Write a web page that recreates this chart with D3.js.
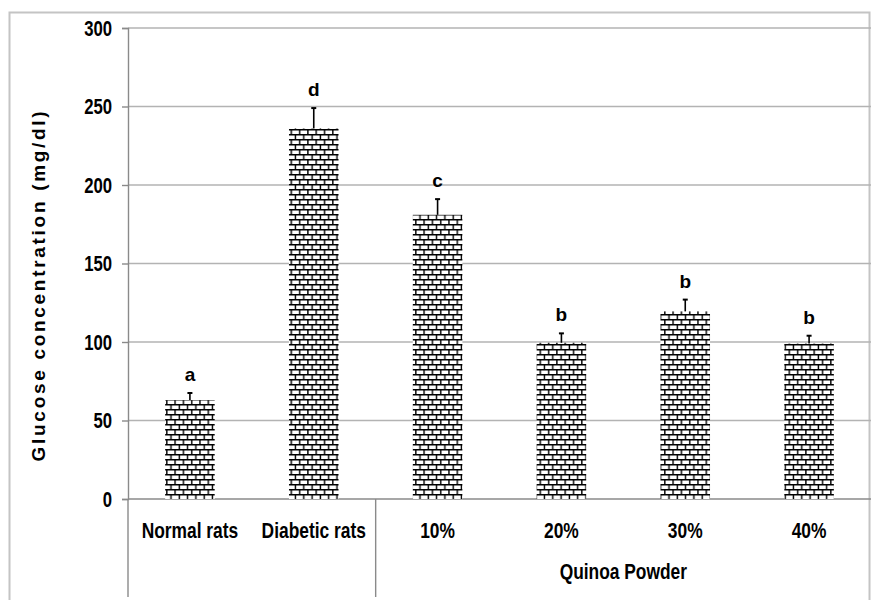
<!DOCTYPE html>
<html>
<head>
<meta charset="utf-8">
<script src="https://cdn.jsdelivr.net/npm/d3@7"></script>
<style>
  body { margin: 0; background: #fff; }
  svg { display: block; }
  .narrow { font-family: "Liberation Sans", Arial, sans-serif; font-weight: bold; }
</style>
</head>
<body>
<div id="chart"></div>
<script>
// data
var groups = ["Normal rats", "Diabetic rats", "10%", "20%", "30%", "40%"]
var glucose = [63, 236, 181, 99.5, 119.5, 99]
var errors = [4.5, 13, 10, 6, 7.5, 5]
var letters = ["a", "d", "c", "b", "b", "b"]
var yTicks = [0, 50, 100, 150, 200, 250, 300]
var groupTitle = "Quinoa Powder"

var width = 871, height = 600
var margin = {top: 28, right: 0, bottom: 101, left: 128}
var squeeze = 0.79   // fake a narrow font
var squeezeY = 0.76

var svg = d3.select("#chart").append("svg")
    .attr("width", width)
    .attr("height", height)

// brick hatch
var defs = svg.append("defs")
var pat = defs.append("pattern")
    .attr("id", "bricks")
    .attr("patternUnits", "userSpaceOnUse")
    .attr("width", 8.3)
    .attr("height", 10)
    .attr("y", 499)
    .attr("x", 0)
pat.append("rect").attr("width", 8.3).attr("height", 10).attr("fill", "#fff")
pat.append("path")
    .attr("d", "M0,0.7H8.3M0,5.7H8.3M0.8,0.7V5.7M5,5.7V10.7")
    .attr("stroke", "#000")
    .attr("stroke-width", 1.4)
    .attr("fill", "none")

// outer frame
svg.append("rect")
    .attr("x", 9.5).attr("y", 12.5)
    .attr("width", 860).attr("height", 600)
    .attr("fill", "none")
    .attr("stroke", "#c4c4c4")
    .attr("stroke-width", 2)

var x = d3.scaleBand()
    .domain(groups)
    .range([margin.left, width - margin.right])
    .paddingInner(0.6)
    .paddingOuter(0.3)

var y = d3.scaleLinear()
    .domain([0, 300])
    .range([height - margin.bottom, margin.top])

// gridlines
svg.append("g")
    .selectAll("line")
    .data(yTicks.slice(1))
    .enter().append("line")
    .attr("x1", margin.left).attr("x2", width)
    .attr("y1", function(d){ return y(d) }).attr("y2", function(d){ return y(d) })
    .attr("stroke", "#b3b3b3")
    .attr("stroke-width", 1.6)

// y axis
var yAxis = svg.append("g")
    .attr("transform", "translate(" + margin.left + ",0)")
    .call(d3.axisLeft(y).tickValues(yTicks).tickSize(6).tickPadding(10))
yAxis.select(".domain").attr("stroke", "#8a8a8a").attr("stroke-width", 1.4)
yAxis.selectAll(".tick line").attr("stroke", "#8a8a8a").attr("stroke-width", 1.4)
yAxis.selectAll(".tick text")
    .attr("class", "narrow")
    .attr("font-size", 22)
    .attr("fill", "#000")
    .attr("x", -16 / squeezeY)
    .attr("transform", "scale(" + squeezeY + ",1)")

// x axis line
svg.append("line")
    .attr("x1", margin.left).attr("x2", width)
    .attr("y1", y(0)).attr("y2", y(0))
    .attr("stroke", "#8a8a8a").attr("stroke-width", 1.4)

// left axis line down to bottom, and group separator
var sepX = (x("Diabetic rats") + x.bandwidth() + x("10%")) / 2
svg.append("line")
    .attr("x1", margin.left).attr("x2", margin.left)
    .attr("y1", y(0)).attr("y2", 597)
    .attr("stroke", "#8a8a8a").attr("stroke-width", 1.4)
svg.append("line")
    .attr("x1", sepX).attr("x2", sepX)
    .attr("y1", y(0)).attr("y2", 597)
    .attr("stroke", "#8a8a8a").attr("stroke-width", 1.4)

// x category labels
var xAxis = svg.append("g")
    .attr("transform", "translate(0," + y(0) + ")")
    .call(d3.axisBottom(x).tickSize(0).tickPadding(23))
xAxis.select(".domain").remove()
xAxis.selectAll(".tick text")
    .attr("class", "narrow")
    .attr("font-size", 22)
    .attr("fill", "#000")
    .attr("transform", "scale(" + squeeze + ",1)")

svg.append("text")
    .attr("class", "narrow")
    .attr("transform", "translate(" + ((sepX + width) / 2) + ",579) scale(" + squeeze + ",1)")
    .attr("text-anchor", "middle")
    .attr("font-size", 22)
    .text(groupTitle)

// y title
svg.append("text")
    .attr("transform", "translate(45," + 285 + ") rotate(-90)")
    .attr("text-anchor", "middle")
    .attr("font-family", "Liberation Sans, Arial, sans-serif")
    .attr("font-weight", "bold")
    .attr("font-size", 19)
    .attr("letter-spacing", 2.7)
    .text("Glucose concentration (mg/dl)")

// bars
svg.append("g")
    .selectAll("rect")
    .data(groups)
    .enter().append("rect")
    .attr("x", function(d){ return x(d) })
    .attr("y", function(d, i){ return y(glucose[i]) })
    .attr("width", x.bandwidth())
    .attr("height", function(d, i){ return y(0) - y(glucose[i]) })
    .attr("fill", "url(#bricks)")

// error bars
var eb = svg.append("g").selectAll("g")
    .data(groups)
    .enter().append("g")
eb.append("line")
    .attr("x1", function(d){ return x(d) + x.bandwidth() / 2 })
    .attr("x2", function(d){ return x(d) + x.bandwidth() / 2 })
    .attr("y1", function(d, i){ return y(glucose[i]) })
    .attr("y2", function(d, i){ return y(glucose[i] + errors[i]) })
    .attr("stroke", "#000").attr("stroke-width", 1.6)
eb.append("line")
    .attr("x1", function(d){ return x(d) + x.bandwidth() / 2 - 2.5 })
    .attr("x2", function(d){ return x(d) + x.bandwidth() / 2 + 2.5 })
    .attr("y1", function(d, i){ return y(glucose[i] + errors[i]) })
    .attr("y2", function(d, i){ return y(glucose[i] + errors[i]) })
    .attr("stroke", "#000").attr("stroke-width", 2)

// significance letters
svg.append("g")
    .selectAll("text")
    .data(groups)
    .enter().append("text")
    .attr("x", function(d){ return x(d) + x.bandwidth() / 2 })
    .attr("y", function(d, i){ return y(glucose[i] + errors[i]) - 12 })
    .attr("text-anchor", "middle")
    .attr("font-family", "Liberation Sans, Arial, sans-serif")
    .attr("font-weight", "bold")
    .attr("font-size", 19)
    .text(function(d, i){ return letters[i] })
</script>
</body>
</html>
